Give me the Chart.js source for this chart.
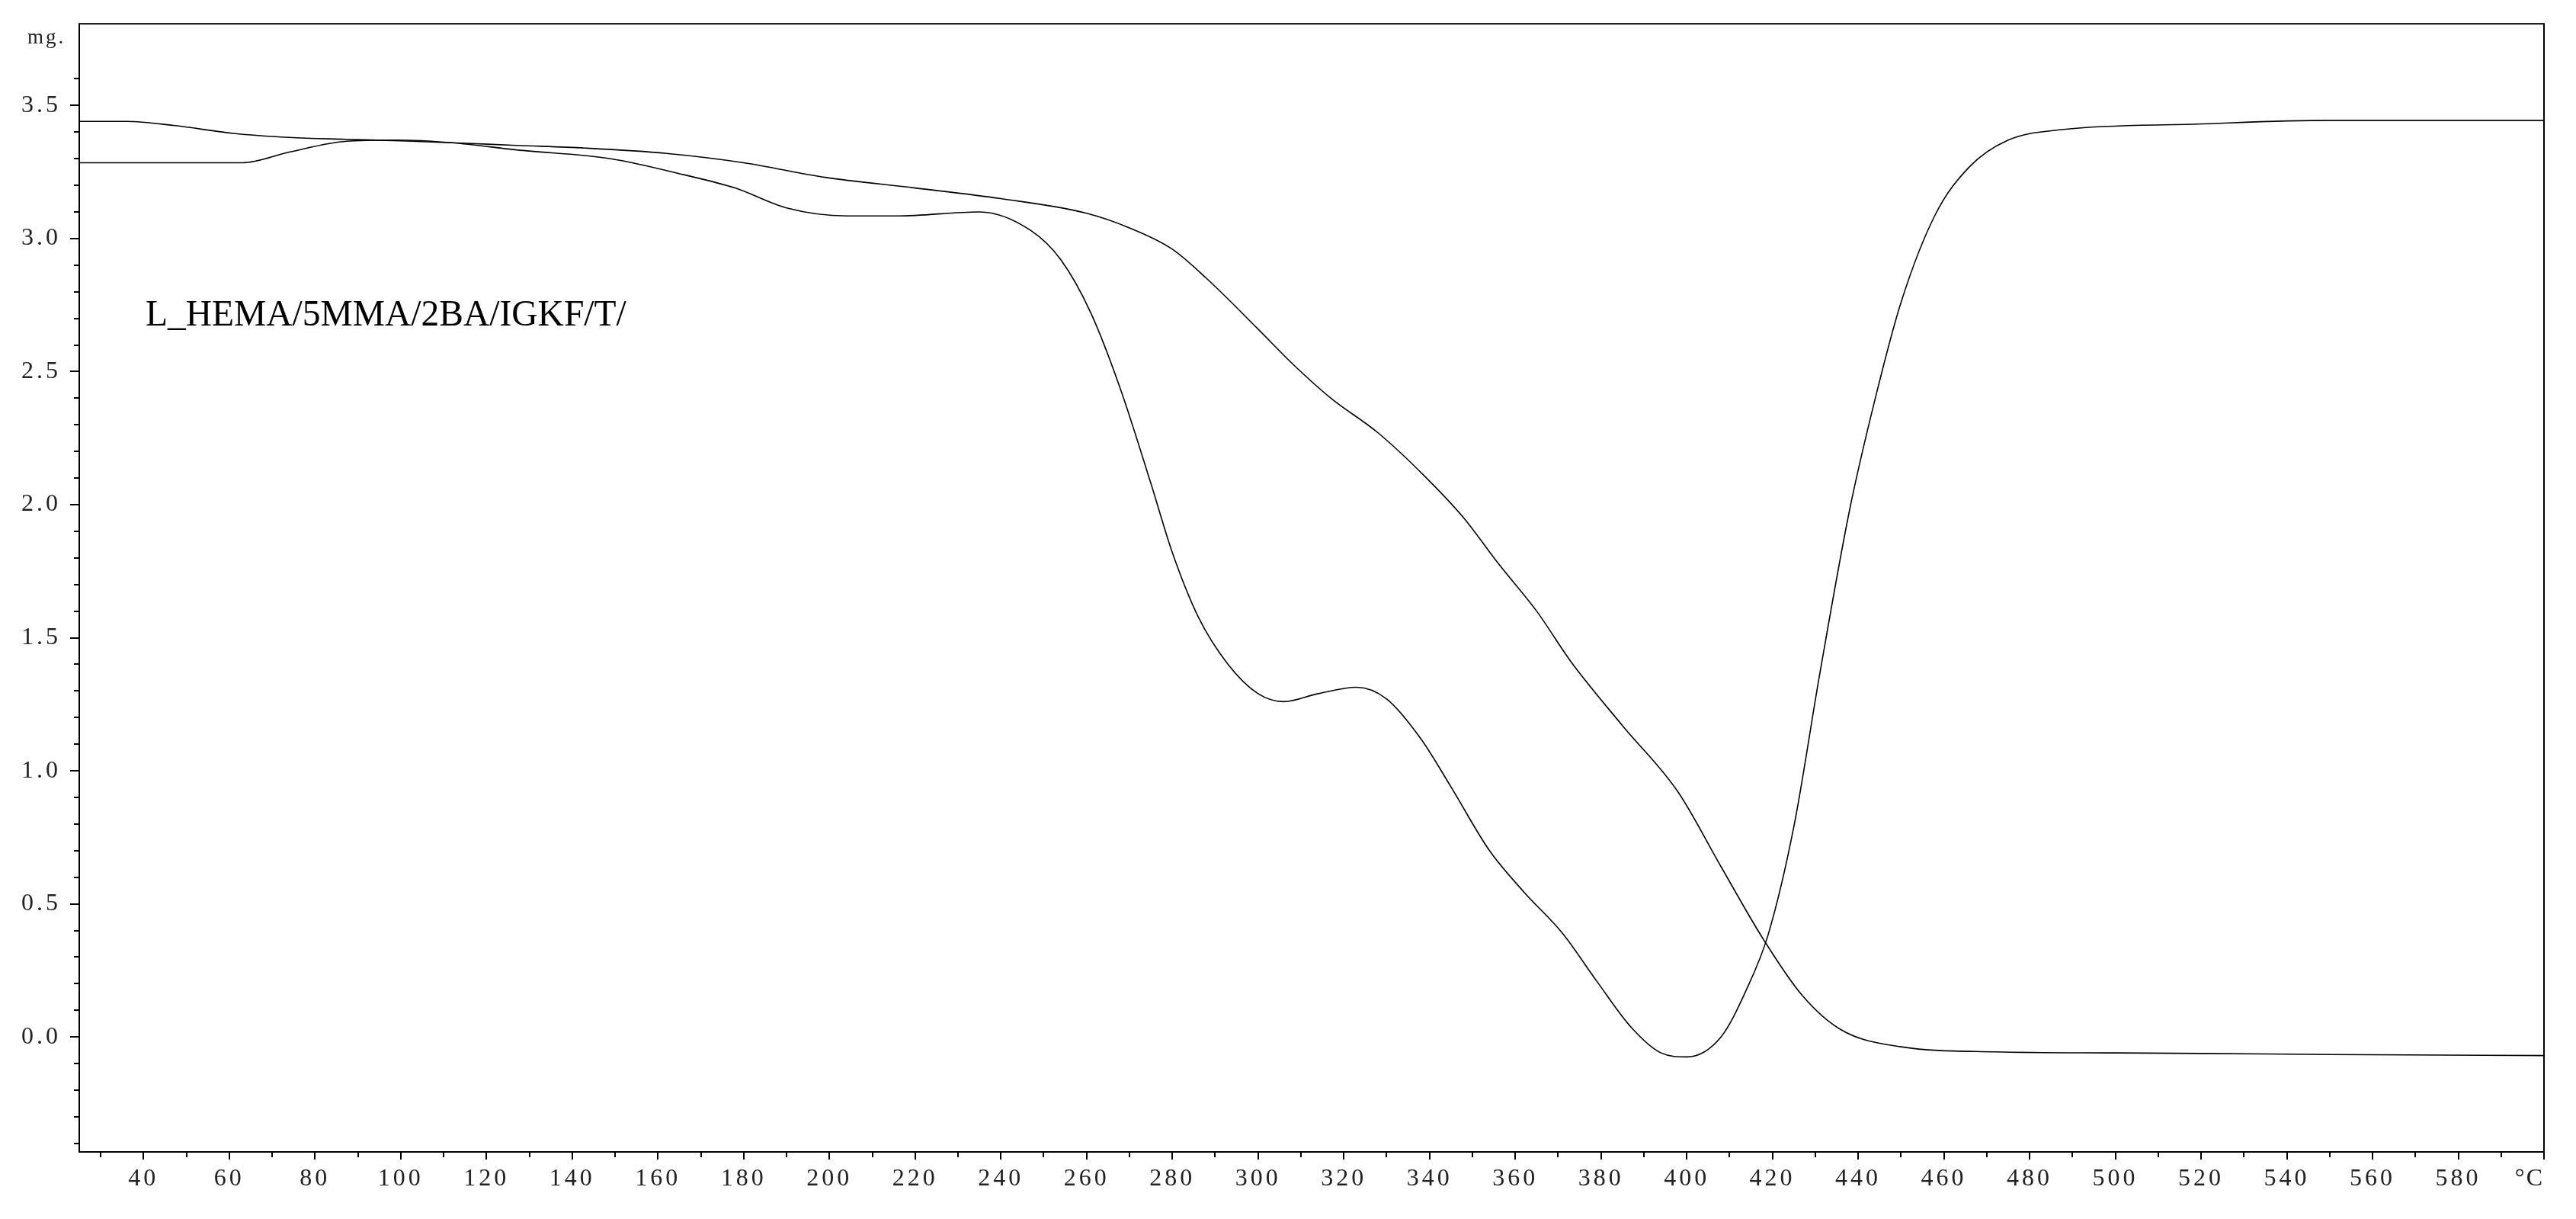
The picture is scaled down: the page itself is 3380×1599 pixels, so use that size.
<!DOCTYPE html>
<html>
<head>
<meta charset="utf-8">
<title>TG curve</title>
<script src="https://cdn.jsdelivr.net/npm/chart.js@4.4.1/dist/chart.umd.min.js"></script>
<style>
    html, body { margin: 0; padding: 0; background: #fff; }
    canvas { display: block; }
</style>
</head>
<body>
<canvas id="tgChart" width="3380" height="1599"></canvas>
<script>
// sample name and axis units
const sampleLabel = "L_HEMA/5MMA/2BA/IGKF/T/";
const yUnit = "mg.";
const xUnit = "°C";

// curve 1: mass, starts at 3.44 and ends near zero
const tempA = [25, 36, 47, 61, 74, 87, 100, 112, 127, 143, 162, 180, 199, 220, 240, 260, 270, 280, 288, 300, 308, 317, 328, 339, 348, 356, 365, 373, 385, 398, 408, 418, 427, 436, 450, 472, 500, 520, 550, 600];
const massA = [3.44, 3.44, 3.425, 3.395, 3.38, 3.373, 3.367, 3.36, 3.35, 3.34, 3.32, 3.285, 3.23, 3.19, 3.15, 3.095, 3.04, 2.96, 2.85, 2.66, 2.53, 2.40, 2.27, 2.105, 1.95, 1.78, 1.6, 1.41, 1.17, 0.92, 0.64, 0.364, 0.155, 0.027, -0.037, -0.056, -0.06, -0.062, -0.066, -0.07];

// curve 2: dips to its minimum near 400 and climbs back to 3.44
const tempB = [25, 63, 74, 87, 99, 112, 127, 149, 166, 178, 190, 204, 216, 235, 247, 254, 261, 268, 275, 280, 286, 293, 300, 306, 314, 323, 330, 338, 345, 354, 362, 371, 379, 387, 394, 400, 408, 414, 419, 425, 431, 438, 444, 450, 458, 466, 475, 488, 519, 550, 600];
const massB = [3.285, 3.285, 3.325, 3.365, 3.37, 3.36, 3.333, 3.30, 3.24, 3.19, 3.115, 3.085, 3.085, 3.10, 3.03, 2.92, 2.72, 2.43, 2.08, 1.82, 1.58, 1.40, 1.29, 1.26, 1.29, 1.314, 1.27, 1.12, 0.94, 0.70, 0.545, 0.39, 0.21, 0.037, -0.06, -0.075, 0.0, 0.18, 0.384, 0.79, 1.36, 1.98, 2.40, 2.76, 3.09, 3.27, 3.37, 3.41, 3.43, 3.444, 3.444];

// tick labels
const xTicks = [40, 60, 80, 100, 120, 140, 160, 180, 200, 220, 240, 260, 280, 300, 320, 340, 360, 380, 400, 420, 440, 460, 480, 500, 520, 540, 560, 580, 600];
const xTickLabels = ["40", "60", "80", "100", "120", "140", "160", "180", "200", "220", "240", "260", "280", "300", "320", "340", "360", "380", "400", "420", "440", "460", "480", "500", "520", "540", "560", "580", ""];
const yTicks = [0, 0.5, 1.0, 1.5, 2.0, 2.5, 3.0, 3.5];
const yTickLabels = ["0.0", "0.5", "1.0", "1.5", "2.0", "2.5", "3.0", "3.5"];

const FONT = "'Liberation Serif', 'Times New Roman', serif";

function toPoints(xs, ys) {
    return xs.map((x, i) => ({ x: x, y: ys[i] }));
}

// frame, minor ticks and the free texts
const tgDecor = {
    id: 'tgDecor',
    beforeDraw(chart) {
        chart.ctx.letterSpacing = '4px';
    },
    beforeDatasetsDraw(chart) {
        chart.ctx.letterSpacing = '0px';
    },
    afterDraw(chart) {
        const ctx = chart.ctx;
        const area = chart.chartArea;
        const xs = chart.scales.x;
        const ys = chart.scales.y;

        ctx.save();
        ctx.strokeStyle = '#000';
        ctx.lineWidth = 2;

        // minor ticks
        ctx.beginPath();
        for (let v = 30; v <= 590; v += 20) {
            const px = Math.round(xs.getPixelForValue(v));
            ctx.moveTo(px, area.bottom);
            ctx.lineTo(px, area.bottom + 7);
        }
        for (let i = -4; i <= 36; i++) {
            if (i % 5 === 0) continue;
            const py = Math.round(ys.getPixelForValue(i / 10));
            ctx.moveTo(area.left, py);
            ctx.lineTo(area.left - 7, py);
        }
        ctx.stroke();

        // frame
        ctx.strokeRect(area.left, area.top, area.right - area.left, area.bottom - area.top);

        // texts
        ctx.fillStyle = '#222';
        ctx.letterSpacing = '3px';
        ctx.font = "27px " + FONT;
        ctx.textAlign = 'left';
        ctx.textBaseline = 'alphabetic';
        ctx.fillText(yUnit, 36, 57);

        ctx.font = "32px " + FONT;
        ctx.letterSpacing = '2px';
        ctx.textAlign = 'right';
        ctx.textBaseline = 'top';
        ctx.fillText(xUnit, area.right, 1531);

        ctx.letterSpacing = '0px';
        ctx.fillStyle = '#000';
        ctx.font = "47.5px " + FONT;
        ctx.textAlign = 'left';
        ctx.textBaseline = 'alphabetic';
        ctx.fillText(sampleLabel, 191, 427);
        ctx.restore();
    }
};

const lineStyle = {
    borderColor: '#000',
    borderWidth: 1.6,
    pointRadius: 0,
    fill: false,
    cubicInterpolationMode: 'monotone'
};

new Chart(document.getElementById('tgChart'), {
    type: 'line',
    data: {
        datasets: [
            Object.assign({ label: 'A', data: toPoints(tempA, massA) }, lineStyle),
            Object.assign({ label: 'B', data: toPoints(tempB, massB) }, lineStyle)
        ]
    },
    options: {
        responsive: false,
        animation: false,
        layout: { padding: { left: 0, top: 28, right: 42, bottom: 0 } },
        plugins: {
            legend: { display: false },
            tooltip: { enabled: false }
        },
        scales: {
            x: {
                type: 'linear',
                min: 25,
                max: 600,
                afterBuildTicks: scale => { scale.ticks = xTicks.map(v => ({ value: v })); },
                afterFit: scale => { scale.height = 88; },
                border: { display: false },
                grid: { drawOnChartArea: false, drawTicks: true, tickLength: 10, color: '#000', lineWidth: 2 },
                ticks: {
                    autoSkip: false,
                    maxRotation: 0,
                    padding: 6,
                    color: '#222',
                    font: { family: FONT, size: 32 },
                    callback: (value, index) => xTickLabels[index]
                }
            },
            y: {
                type: 'linear',
                min: -0.432,
                max: 3.807,
                afterBuildTicks: scale => { scale.ticks = yTicks.map(v => ({ value: v })); },
                afterFit: scale => { scale.width = 104; },
                border: { display: false },
                grid: { drawOnChartArea: false, drawTicks: true, tickLength: 12, color: '#000', lineWidth: 2 },
                ticks: {
                    padding: 12,
                    color: '#222',
                    font: { family: FONT, size: 32 },
                    callback: (value, index) => yTickLabels[index]
                }
            }
        }
    },
    plugins: [tgDecor]
});
</script>
</body>
</html>
